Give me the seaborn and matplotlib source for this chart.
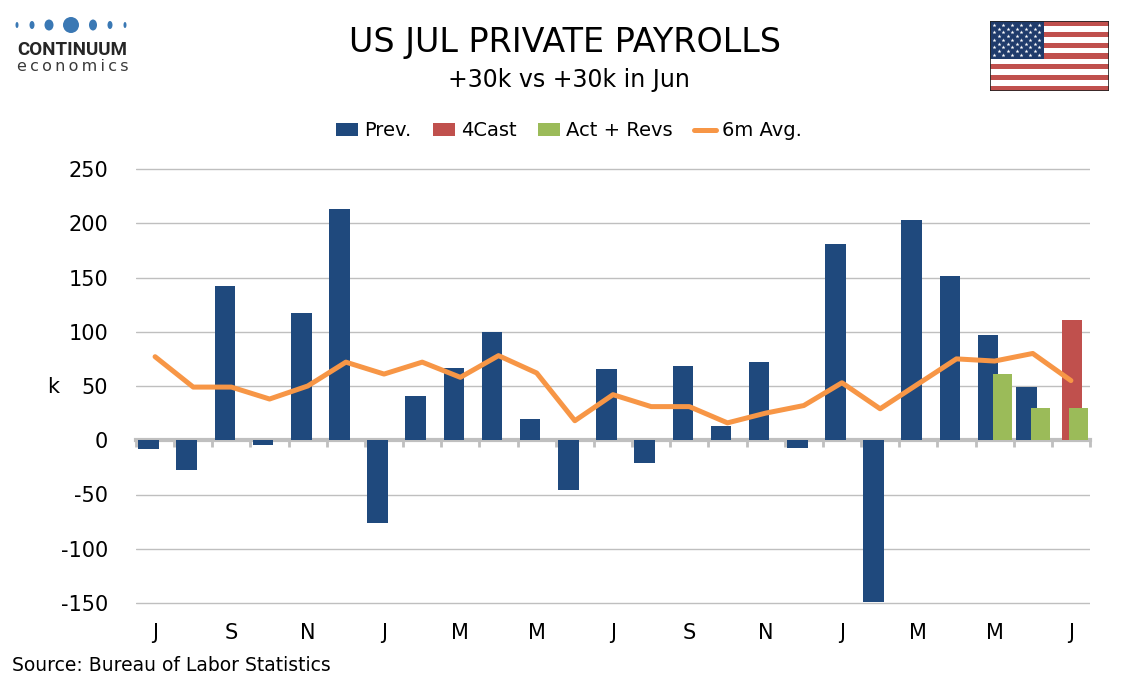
import numpy as np
import pandas as pd
import matplotlib
matplotlib.use("Agg")
import matplotlib.pyplot as plt
from matplotlib.patches import Patch, Rectangle, Ellipse
from matplotlib.lines import Line2D
import seaborn as sns

sns.set_theme(style="white")
plt.rcParams['font.family'] = ['DejaVu Sans']
plt.rcParams['axes.unicode_minus'] = False
plt.rcParams['text.color'] = 'black'
plt.rcParams['axes.labelcolor'] = 'black'
plt.rcParams['xtick.color'] = 'black'
plt.rcParams['ytick.color'] = 'black'
plt.rcParams['legend.labelcolor'] = 'black'

# ---------------- data ----------------
months = ["Jul23", "Aug23", "Sep23", "Oct23", "Nov23", "Dec23",
          "Jan24", "Feb24", "Mar24", "Apr24", "May24", "Jun24",
          "Jul24", "Aug24", "Sep24", "Oct24", "Nov24", "Dec24",
          "Jan25", "Feb25", "Mar25", "Apr25", "May25", "Jun25", "Jul25"]
tick_labels = ["J", "S", "N", "J", "M", "M", "J", "S", "N", "J", "M", "M", "J"]
prev = [-8, -27, 142, -4, 117, 213, -76, 41, 67, 100, 20, -46,
        66, -21, 68, 13, 72, -7, 181, -149, 203, 151, 97, 49, np.nan]
fcst = [np.nan] * 24 + [111]
act = [np.nan] * 22 + [61, 30, 30]
avg6 = [77, 49, 49, 38, 50, 72, 61, 72, 58, 78, 62, 18, 42,
        31, 31, 16, 25, 32, 53, 29, 52, 75, 73, 80, 55]

BLUE, RED, GREEN, ORANGE = "#1F497D", "#C0504D", "#9BBB59", "#F79646"
GRID = "#BFBFBF"

W, H = 1134, 680
PPU = (603 - 169) / 400.0          # pixels per unit
Y0, Y1 = -152, 252
top_px = 169 - (Y1 - 250) * PPU
bot_px = 603 + (-150 - Y0) * PPU
fig = plt.figure(figsize=(W / 100, H / 100), dpi=100)
ax = fig.add_axes([136 / W, 1 - bot_px / H, (1090 - 136) / W, (bot_px - top_px) / H])

idx = np.arange(len(months))

def series_df(vals, off):
    return pd.DataFrame({"x": idx + off, "y": vals}).dropna()

bar_kw = dict(x="x", y="y", native_scale=True, orient="x", saturation=1,
              errorbar=None, ax=ax, linewidth=0, edgecolor="none")
sns.barplot(data=series_df(prev, -0.17), color=BLUE, width=0.54, **bar_kw)
sns.barplot(data=series_df(fcst, 0.02), color=RED, width=0.53, **bar_kw)
sns.barplot(data=series_df(act, 0.21), color=GREEN, width=0.50, **bar_kw)
sns.lineplot(x=idx, y=avg6, color=ORANGE, linewidth=3.6, ax=ax, zorder=4)

ax.set_xlim(-0.5, len(months) - 0.5)
ax.set_ylim(Y0, Y1)
ax.set_yticks(np.arange(-150, 251, 50))
ax.yaxis.grid(True, color=GRID, linewidth=1.0)
ax.xaxis.grid(False)
ax.set_axisbelow(True)
for s in ax.spines.values():
    s.set_visible(False)
ax.set_xticks(idx[::2])
ax.set_xticklabels(tick_labels)
ax.tick_params(axis="both", length=0, labelsize=15, colors="#000000")
ax.tick_params(axis="y", pad=20)
ax.tick_params(axis="x", pad=13)
ax.set_xlabel("")
ax.set_ylabel("k", rotation=0, fontsize=15, va="center", ha="center", color="black")
ax.yaxis.set_label_coords((53 - 136) / 954, (bot_px - 387) / (bot_px - top_px))

# zero axis with category-boundary ticks
sec = ax.secondary_xaxis(0, transform=ax.transData)
sec.set_xticks(np.arange(-0.5, len(months), 1.0))
sec.tick_params(axis="x", length=5, width=2, color=GRID, labelbottom=False,
                direction="out")
for name, s in sec.spines.items():
    s.set_visible(name == "bottom")
sec.spines["bottom"].set_color(GRID)
sec.spines["bottom"].set_linewidth(3)

# legend
handles = [Patch(color=BLUE, lw=0), Patch(color=RED, lw=0), Patch(color=GREEN, lw=0),
           Line2D([0], [0], color=ORANGE, linewidth=3.6)]
fig.legend(handles, ["Prev.", "4Cast", "Act + Revs", "6m Avg."],
           loc="center", bbox_to_anchor=(569 / W, 1 - 131 / H), ncol=4,
           frameon=False, fontsize=14, handlelength=1.15, handleheight=0.6,
           handletextpad=0.3, columnspacing=1.1, labelcolor="black")

# titles
fig.text(565 / W, 1 - 52 / H, "US JUL PRIVATE PAYROLLS", fontsize=24,
         ha="center", va="baseline", color="#000000")
fig.text(569 / W, 1 - 87 / H, "+30k vs +30k in Jun", fontsize=17,
         ha="center", va="baseline", color="#000000")
fig.text(12 / W, 1 - 671 / H, "Source: Bureau of Labor Statistics",
         fontsize=13.5, ha="left", va="baseline", color="#000000")

# logo
lax = fig.add_axes([0, 1 - 80 / H, 140 / W, 80 / H])
lax.set_xlim(0, 140)
lax.set_ylim(80, 0)
lax.axis("off")
for cx, w, h in [(17, 3, 6), (32, 5, 8), (49, 9, 11), (71, 16, 16),
                 (93, 8, 11), (110, 5, 8), (125, 3, 6)]:
    lax.add_patch(Ellipse((cx, 25), w, h, color="#3A78B4", lw=0))
fig.text(17 / W, 1 - 55 / H, "CONTINUUM", fontsize=13.5, fontweight="bold",
         family=["Roboto", "DejaVu Sans"], color="#262626", ha="left", va="baseline")
fig.text(17 / W, 1 - 71 / H, "\u2009".join("economics"), fontsize=11.5,
         family=["DejaVu Sans"], color="#3A3A3A", ha="left", va="baseline")

# flag
fax = fig.add_axes([990 / W, 1 - 91 / H, 119 / W, 70 / H])
fax.set_xlim(0, 1.9)
fax.set_ylim(0, 1)
fax.axis("off")
FRED, FBLUE = "#C0504D", "#1F3B6B"
for i in range(13):
    fax.add_patch(Rectangle((0, 1 - (i + 1) / 13), 1.9, 1 / 13,
                            color=FRED if i % 2 == 0 else "white", lw=0))
fax.add_patch(Rectangle((0, 6 / 13), 0.86, 7 / 13, color=FBLUE, lw=0))
sx, sy = [], []
for r in range(9):
    n = 6 if r % 2 == 0 else 5
    for c in range(n):
        sx.append(0.07 + c * 0.144 + (0 if r % 2 == 0 else 0.072))
        sy.append(1 - 0.054 - r * 0.054)
fax.scatter(sx, sy, marker="*", s=9, color="white", linewidths=0, zorder=3)
fax.add_patch(Rectangle((0, 0), 1.9, 1, fill=False, edgecolor="#222222", lw=1.2, zorder=4))

fig.savefig("out.png", dpi=100)
